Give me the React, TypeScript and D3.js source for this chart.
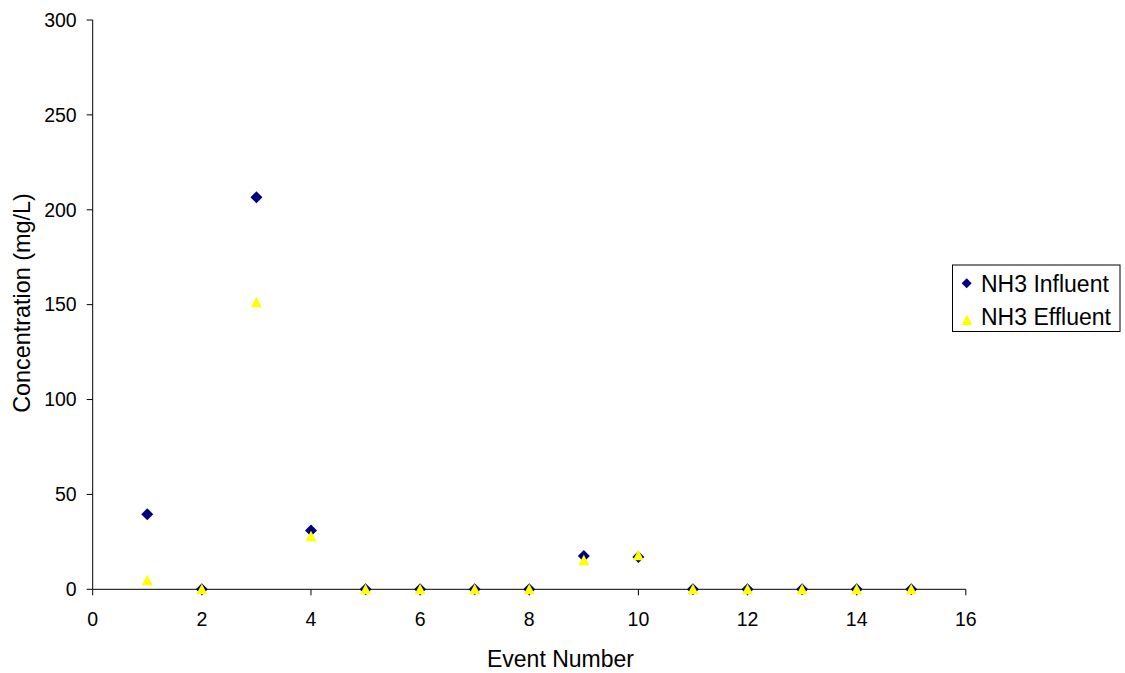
import React from "react";
import * as d3 from "d3";

const events = [1, 2, 3, 4, 5, 6, 7, 8, 9, 10, 11, 12, 13, 14, 15];
const influent = [39.5, 0, 206.6, 31, 0, 0, 0, 0, 17.5, 17, 0, 0, 0, 0, 0];
const effluent = [4.8, 0, 151.3, 28, 0, 0, 0, 0, 15.3, 18, 0, 0, 0, 0, 0];
const xTicks = [0, 2, 4, 6, 8, 10, 12, 14, 16];
const yTicks = [0, 50, 100, 150, 200, 250, 300];

export default function App() {
  const W = 1125, H = 673;
  const x = d3.scaleLinear().domain([0, 16]).range([92.7, 965.8]);
  const y = d3.scaleLinear().domain([0, 300]).range([589.3, 20]);
  const font = "'Liberation Sans', Arial, sans-serif";
  const diamond = (cx: number, cy: number, r = 6) =>
    `M${cx},${cy - r}L${cx + r},${cy}L${cx},${cy + r}L${cx - r},${cy}Z`;
  const tri = (cx: number, cy: number, w = 11, h = 10) =>
    `M${cx},${cy - h / 2 - 0.5}L${cx + w / 2},${cy + h / 2}L${cx - w / 2},${cy + h / 2}Z`;
  return (
    <svg width={W} height={H} style={{ position: "absolute", left: 0, top: 0 }} fontFamily={font}>
      <rect width={W} height={H} fill="#fff" />
      {/* axes */}
      <line x1={x(0)} x2={x(0)} y1={y(300)} y2={y(0)} stroke="#000" strokeWidth={1} />
      <line x1={x(0)} x2={x(16)} y1={y(0)} y2={y(0)} stroke="#000" strokeWidth={1} />
      {yTicks.map((t) => (
        <g key={"y" + t}>
          <line x1={x(0) - 6} x2={x(0)} y1={y(t)} y2={y(t)} stroke="#000" />
          <text x={x(0) - 16} y={y(t)} dy="0.35em" textAnchor="end" fontSize={19.5}>{t}</text>
        </g>
      ))}
      {xTicks.map((t) => (
        <g key={"x" + t}>
          <line x1={x(t)} x2={x(t)} y1={y(0)} y2={y(0) + 6} stroke="#000" />
          <text x={x(t)} y={626} textAnchor="middle" fontSize={19.5}>{t}</text>
        </g>
      ))}
      <text x={560.5} y={667} textAnchor="middle" fontSize={23}>Event Number</text>
      <text transform={`translate(29.5,${303}) rotate(-90)`} textAnchor="middle" fontSize={23.4}>
        Concentration (mg/L)
      </text>
      {/* points */}
      {events.map((e, i) => (
        <path key={"i" + e} d={diamond(x(e), y(influent[i]))} fill="#000080" />
      ))}
      {events.map((e, i) => (
        <path key={"e" + e} d={tri(x(e), y(effluent[i]))} fill="#ffff00" />
      ))}
      {/* legend */}
      <rect x={952.5} y={265} width={167.5} height={66.5} fill="#fff" stroke="#000" strokeWidth={1} />
      <path d={diamond(966.7, 283.3, 5)} fill="#000080" />
      <text x={981} y={291.7} fontSize={23}>NH3 Influent</text>
      <path d={tri(967, 320, 10.7, 10)} fill="#ffff00" />
      <text x={981} y={325} fontSize={23}>NH3 Effluent</text>
    </svg>
  );
}
